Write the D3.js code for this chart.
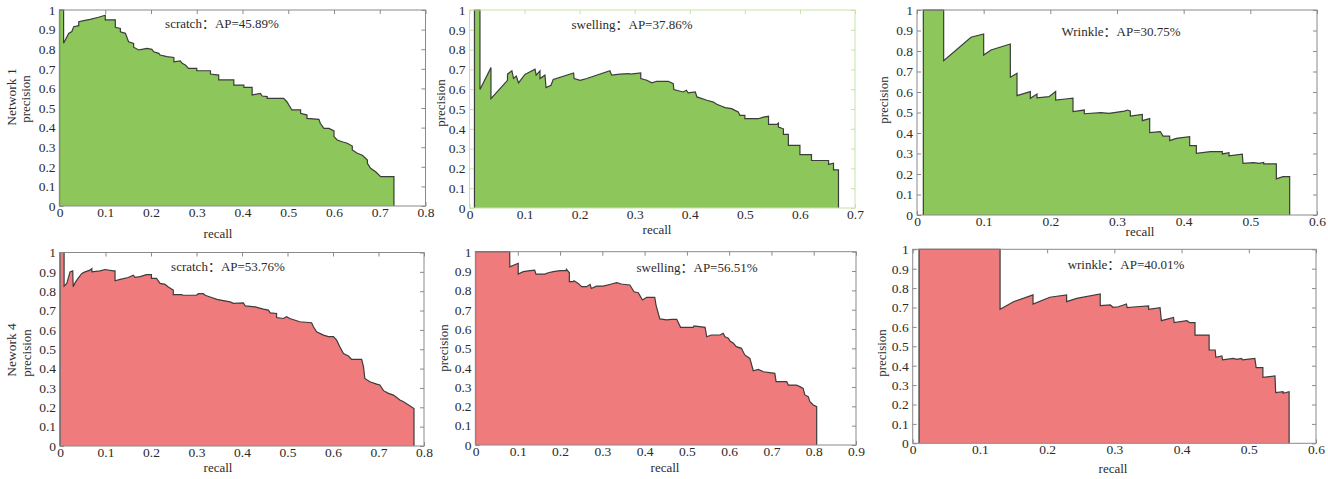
<!DOCTYPE html>
<html lang="zh-CN"><head><meta charset="utf-8">
<script src="https://cdn.jsdelivr.net/npm/d3@7"></script>
<style>body{margin:0;background:#fff}svg{display:block}</style>
</head><body><svg id="c" width="1328" height="479"></svg>
<script>
// ---------- data ----------
const classNames = ["scratch", "swelling", "Wrinkle", "scratch", "swelling", "wrinkle"];
const apValues = ["45.89", "37.86", "30.75", "53.76", "56.51", "40.01"];
const rowLabels = ["Network 1", "Nework 4"];
const xMaxima = [0.8, 0.7, 0.6, 0.8, 0.9, 0.6];
const yTickValues = [0, 0.1, 0.2, 0.3, 0.4, 0.5, 0.6, 0.7, 0.8, 0.9, 1];
const axisTitleX = "recall";
const axisTitleY = "precision";

// precision–recall curve vertices [recall, precision]
const net1Scratch = [[0,0],[0,1],[0.009,1],[0.009,0.83],[0.02,0.88],[0.027,0.89],[0.031,0.915],[0.042,0.92],[0.042,0.94],[0.053,0.946],[0.067,0.952],[0.085,0.963],[0.1,0.973],[0.1,0.95],[0.122,0.95],[0.122,0.912],[0.133,0.906],[0.133,0.889],[0.144,0.881],[0.151,0.838],[0.162,0.83],[0.162,0.81],[0.173,0.796],[0.18,0.799],[0.191,0.804],[0.202,0.799],[0.206,0.787],[0.217,0.779],[0.22,0.77],[0.235,0.762],[0.25,0.758],[0.25,0.736],[0.264,0.74],[0.268,0.728],[0.275,0.719],[0.282,0.702],[0.3,0.702],[0.3,0.69],[0.33,0.69],[0.33,0.673],[0.348,0.668],[0.348,0.643],[0.381,0.643],[0.381,0.617],[0.403,0.617],[0.403,0.605],[0.421,0.605],[0.421,0.566],[0.439,0.575],[0.443,0.561],[0.454,0.558],[0.454,0.549],[0.49,0.549],[0.497,0.532],[0.508,0.49],[0.527,0.49],[0.527,0.473],[0.541,0.464],[0.541,0.447],[0.567,0.442],[0.57,0.422],[0.578,0.396],[0.589,0.396],[0.6,0.383],[0.6,0.354],[0.607,0.337],[0.618,0.328],[0.629,0.32],[0.64,0.306],[0.64,0.286],[0.651,0.269],[0.662,0.259],[0.673,0.235],[0.673,0.218],[0.68,0.192],[0.691,0.175],[0.702,0.15],[0.731,0.15],[0.731,0]];
const net1Swelling = [[0.009,0],[0.009,1],[0.019,1],[0.019,0.598],[0.039,0.709],[0.039,0.552],[0.069,0.645],[0.069,0.676],[0.077,0.693],[0.08,0.654],[0.085,0.666],[0.089,0.632],[0.101,0.676],[0.104,0.679],[0.119,0.701],[0.121,0.671],[0.128,0.693],[0.128,0.654],[0.137,0.671],[0.139,0.608],[0.148,0.62],[0.152,0.649],[0.189,0.682],[0.19,0.654],[0.201,0.645],[0.213,0.654],[0.255,0.693],[0.258,0.671],[0.273,0.676],[0.29,0.679],[0.292,0.676],[0.311,0.682],[0.311,0.654],[0.322,0.645],[0.331,0.632],[0.34,0.64],[0.361,0.64],[0.37,0.628],[0.371,0.598],[0.388,0.586],[0.394,0.595],[0.397,0.581],[0.41,0.586],[0.413,0.561],[0.431,0.544],[0.443,0.535],[0.449,0.524],[0.458,0.514],[0.464,0.507],[0.476,0.502],[0.482,0.493],[0.488,0.485],[0.491,0.468],[0.5,0.468],[0.5,0.451],[0.524,0.451],[0.534,0.459],[0.543,0.463],[0.543,0.422],[0.558,0.422],[0.561,0.429],[0.561,0.409],[0.57,0.4],[0.57,0.372],[0.579,0.372],[0.579,0.316],[0.6,0.316],[0.6,0.27],[0.621,0.27],[0.621,0.24],[0.652,0.24],[0.652,0.22],[0.661,0.226],[0.661,0.193],[0.67,0.193],[0.67,0]];
const net1Wrinkle = [[0.0095,0],[0.0095,1],[0.04,1],[0.04,0.753],[0.081,0.867],[0.1,0.883],[0.1,0.78],[0.111,0.805],[0.14,0.834],[0.14,0.672],[0.15,0.691],[0.15,0.582],[0.17,0.602],[0.17,0.569],[0.18,0.59],[0.18,0.572],[0.198,0.577],[0.208,0.602],[0.208,0.561],[0.226,0.567],[0.234,0.57],[0.234,0.504],[0.251,0.512],[0.251,0.494],[0.276,0.499],[0.288,0.496],[0.311,0.507],[0.316,0.512],[0.32,0.507],[0.32,0.483],[0.338,0.491],[0.338,0.46],[0.349,0.47],[0.349,0.402],[0.365,0.407],[0.369,0.385],[0.379,0.385],[0.379,0.363],[0.389,0.374],[0.409,0.382],[0.409,0.338],[0.419,0.338],[0.419,0.301],[0.44,0.309],[0.458,0.309],[0.458,0.298],[0.468,0.304],[0.468,0.289],[0.488,0.297],[0.489,0.252],[0.505,0.255],[0.513,0.252],[0.52,0.256],[0.52,0.249],[0.539,0.249],[0.539,0.176],[0.549,0.187],[0.559,0.187],[0.559,0]];
const net4Scratch = [[0,0],[0,1],[0.009,1],[0.009,0.826],[0.015,0.84],[0.022,0.9],[0.028,0.905],[0.029,0.823],[0.033,0.843],[0.038,0.861],[0.048,0.892],[0.055,0.9],[0.066,0.909],[0.07,0.917],[0.07,0.9],[0.088,0.905],[0.099,0.912],[0.117,0.905],[0.121,0.905],[0.121,0.854],[0.132,0.861],[0.15,0.871],[0.161,0.883],[0.165,0.871],[0.176,0.875],[0.19,0.886],[0.201,0.886],[0.201,0.866],[0.212,0.866],[0.22,0.84],[0.231,0.835],[0.238,0.822],[0.249,0.806],[0.249,0.782],[0.267,0.782],[0.271,0.779],[0.3,0.779],[0.304,0.787],[0.315,0.787],[0.319,0.779],[0.33,0.77],[0.345,0.758],[0.356,0.753],[0.374,0.745],[0.381,0.737],[0.403,0.74],[0.407,0.724],[0.429,0.719],[0.447,0.707],[0.458,0.702],[0.462,0.688],[0.476,0.685],[0.476,0.664],[0.491,0.659],[0.498,0.668],[0.505,0.659],[0.527,0.642],[0.553,0.637],[0.557,0.616],[0.564,0.59],[0.579,0.573],[0.59,0.565],[0.601,0.565],[0.608,0.547],[0.615,0.513],[0.623,0.478],[0.634,0.465],[0.641,0.448],[0.663,0.448],[0.667,0.41],[0.67,0.349],[0.681,0.332],[0.696,0.32],[0.703,0.315],[0.711,0.286],[0.722,0.272],[0.733,0.263],[0.74,0.251],[0.747,0.238],[0.755,0.229],[0.766,0.212],[0.778,0.194],[0.778,0]];
const net4Swelling = [[0,0],[0,1],[0.081,1],[0.081,0.922],[0.101,0.94],[0.101,0.884],[0.113,0.897],[0.129,0.902],[0.14,0.905],[0.143,0.884],[0.164,0.884],[0.172,0.891],[0.184,0.897],[0.2,0.902],[0.214,0.902],[0.215,0.909],[0.222,0.891],[0.222,0.845],[0.231,0.845],[0.233,0.85],[0.243,0.836],[0.251,0.819],[0.263,0.819],[0.271,0.831],[0.274,0.81],[0.286,0.822],[0.302,0.822],[0.322,0.833],[0.334,0.84],[0.345,0.833],[0.365,0.828],[0.375,0.793],[0.385,0.788],[0.395,0.75],[0.405,0.764],[0.424,0.764],[0.427,0.724],[0.436,0.652],[0.452,0.647],[0.464,0.65],[0.476,0.65],[0.485,0.609],[0.515,0.609],[0.517,0.616],[0.543,0.609],[0.547,0.56],[0.558,0.569],[0.578,0.569],[0.586,0.578],[0.59,0.56],[0.598,0.552],[0.602,0.538],[0.61,0.526],[0.617,0.509],[0.629,0.5],[0.637,0.466],[0.649,0.448],[0.657,0.384],[0.669,0.391],[0.681,0.379],[0.708,0.371],[0.711,0.328],[0.736,0.328],[0.74,0.31],[0.759,0.31],[0.767,0.302],[0.775,0.293],[0.779,0.259],[0.787,0.25],[0.791,0.224],[0.799,0.207],[0.807,0.198],[0.807,0]];
const net4Wrinkle = [[0.0094,0],[0.0094,1],[0.13,1],[0.13,0.691],[0.15,0.73],[0.179,0.765],[0.179,0.718],[0.204,0.753],[0.229,0.765],[0.229,0.73],[0.244,0.747],[0.279,0.77],[0.279,0.71],[0.294,0.713],[0.298,0.701],[0.306,0.704],[0.318,0.718],[0.319,0.699],[0.333,0.704],[0.351,0.708],[0.351,0.691],[0.368,0.699],[0.37,0.632],[0.388,0.649],[0.389,0.622],[0.408,0.632],[0.412,0.622],[0.42,0.622],[0.42,0.558],[0.441,0.558],[0.441,0.481],[0.45,0.481],[0.451,0.443],[0.46,0.45],[0.461,0.43],[0.477,0.438],[0.482,0.433],[0.489,0.438],[0.491,0.43],[0.509,0.438],[0.511,0.39],[0.521,0.39],[0.521,0.34],[0.539,0.347],[0.54,0.261],[0.551,0.266],[0.551,0.258],[0.56,0.266],[0.56,0]];
const curves = [net1Scratch, net1Swelling, net1Wrinkle, net4Scratch, net4Swelling, net4Wrinkle];

// ---------- layout / style ----------
const GREEN = "#8dc65a", RED = "#ef7b7d";
const layout = [
  {x0:59.5, x1:425.5, y0:10,    y1:206,   fill:GREEN, frame:"#8a8a8a", title:[222,25],   xl:[218,235],  yl:[27,99],   row:[13,97]},
  {x0:469.5,x1:855,   y0:10,    y1:208,   fill:GREEN, frame:"#c9e2aa", title:[632,26],   xl:[657,231],  yl:[442,103]},
  {x0:917,  x1:1317,  y0:10,    y1:215,   fill:GREEN, frame:"#8a8a8a", title:[1121,33],  xl:[1140,233], yl:[885,100]},
  {x0:60,   x1:424,   y0:252.5, y1:446,   fill:RED,   frame:"#8a8a8a", title:[228,268],  xl:[218,469],  yl:[28,353],  row:[13,350]},
  {x0:475.5,x1:856,   y0:251.7, y1:445,   fill:RED,   frame:"#8a8a8a", title:[697,269],  xl:[665,469],  yl:[445,348]},
  {x0:912.7,x1:1316,  y0:249.3, y1:443.3, fill:RED,   frame:"#8a8a8a", title:[1126,266], xl:[1113,470], yl:[883,353]}
];
const FONT = "'Liberation Serif', 'Noto Sans CJK SC', serif";
const TXT = "#2b2b2b";
const fmt = d => String(Math.round(d * 10) / 10);

const svg = d3.select("#c");
svg.append("rect").attr("width",1328).attr("height",479).attr("fill","#fff");

layout.forEach((L, i) => {
  const x = d3.scaleLinear().domain([0, xMaxima[i]]).range([L.x0, L.x1]);
  const y = d3.scaleLinear().domain([0, 1]).range([L.y1, L.y0]);
  const xt = d3.range(0, Math.round(xMaxima[i] * 10) + 1).map(k => k / 10);
  const g = svg.append("g");

  const styleAxis = sel => {
    sel.attr("font-family", FONT).attr("font-size", 13.5);
    sel.select(".domain").remove();
    sel.selectAll(".tick line").attr("stroke", L.frame);
    sel.selectAll(".tick text").attr("fill", TXT);
  };
  g.append("g").attr("transform", `translate(0,${L.y1})`)
    .call(d3.axisBottom(x).tickValues(xt).tickFormat(fmt).tickSizeInner(-4).tickSizeOuter(0).tickPadding(1)).call(styleAxis);
  g.append("g").attr("transform", `translate(0,${L.y0})`)
    .call(d3.axisTop(x).tickValues(xt).tickFormat("").tickSizeInner(-4).tickSizeOuter(0)).call(styleAxis);
  g.append("g").attr("transform", `translate(${L.x0},0)`)
    .call(d3.axisLeft(y).tickValues(yTickValues).tickFormat(fmt).tickSizeInner(-4).tickSizeOuter(0).tickPadding(4)).call(styleAxis);
  g.append("g").attr("transform", `translate(${L.x1},0)`)
    .call(d3.axisRight(y).tickValues(yTickValues).tickFormat("").tickSizeInner(-4).tickSizeOuter(0)).call(styleAxis);

  const data = curves[i];
  g.append("path").datum(data)
    .attr("d", d3.area().x(d => x(d[0])).y0(y(0)).y1(d => y(d[1])))
    .attr("fill", L.fill);
  g.append("path").datum(data)
    .attr("d", d3.line().x(d => x(d[0])).y(d => y(d[1])))
    .attr("fill", "none").attr("stroke", "#3c3c3c").attr("stroke-width", 1.2).attr("stroke-linejoin", "miter");

  g.append("rect").attr("x", L.x0).attr("y", L.y0).attr("width", L.x1 - L.x0).attr("height", L.y1 - L.y0)
    .attr("fill", "none").attr("stroke", L.frame).attr("stroke-width", 1);

  g.append("text").attr("x", L.title[0]).attr("y", L.title[1]).attr("text-anchor", "middle").attr("dominant-baseline", "middle")
    .attr("font-family", FONT).attr("font-size", 13).attr("fill", TXT)
    .text(`${classNames[i]}：AP=${apValues[i]}%`);
  g.append("text").attr("x", L.xl[0]).attr("y", L.xl[1]).attr("text-anchor", "middle").attr("dominant-baseline", "middle")
    .attr("font-family", FONT).attr("font-size", 13).attr("fill", TXT).text(axisTitleX);
  g.append("text").attr("transform", `translate(${L.yl[0]},${L.yl[1]}) rotate(-90)`).attr("text-anchor", "middle").attr("dominant-baseline", "middle")
    .attr("font-family", FONT).attr("font-size", 13).attr("fill", TXT).text(axisTitleY);
  if (L.row) {
    g.append("text").attr("transform", `translate(${L.row[0]},${L.row[1]}) rotate(-90)`).attr("text-anchor", "middle").attr("dominant-baseline", "middle")
      .attr("font-family", FONT).attr("font-size", 13.5).attr("fill", TXT).text(rowLabels[i < 3 ? 0 : 1]);
  }
});
</script></body></html>
